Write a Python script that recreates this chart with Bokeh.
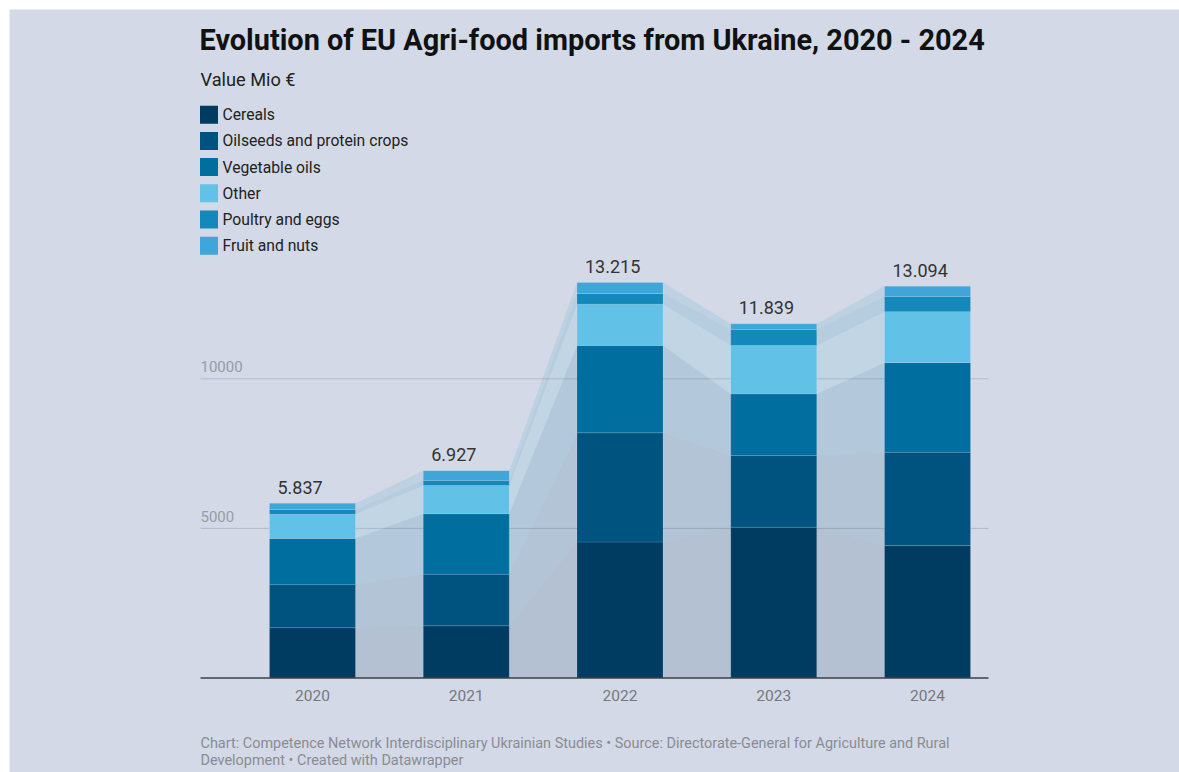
from bokeh.plotting import figure
from bokeh.models import Range1d, ColumnDataSource
from bokeh.core.properties import value
from bokeh.embed import file_html
from bokeh.resources import INLINE
import numpy as np

# ---------------- data ----------------
years = ["2020", "2021", "2022", "2023", "2024"]
categories = ["Cereals", "Oilseeds and protein crops", "Vegetable oils",
              "Other", "Poultry and eggs", "Fruit and nuts"]
cereals = [1680, 1745, 4545, 5040, 4430]
oilseeds = [1440, 1720, 3650, 2400, 3115]
veg_oils = [1540, 2025, 2915, 2055, 2995]
other = [815, 945, 1385, 1620, 1705]
poultry = [155, 170, 355, 535, 505]
fruit = [207, 322, 365, 189, 344]
totals = [5837, 6927, 13215, 11839, 13094]
y_ticks = [5000, 10000]

colors = ["#003b62", "#00537e", "#006e9e", "#61c1e6", "#1389b9", "#40a5d8"]
series = [cereals, oilseeds, veg_oils, other, poultry, fruit]
keys = ["cereals", "oilseeds", "veg_oils", "other", "poultry", "fruit"]

# ---------------- layout (pixels) ----------------
W, H = 1170, 763
OFF = 9                      # page margin
BASE = 677.5                 # page y of baseline
PXU = 0.02992                # px per unit
C0, STEP = 312.0, 153.75     # page x of first bar centre, bar spacing
BAR_W = 86 / STEP

def X(px):
    return (px - C0) / STEP

def Y(py):
    return (BASE - py) / PXU

FONT = value("Roboto")

p = figure(width=W, height=H, output_backend="svg", toolbar_location=None,
           x_range=Range1d(X(OFF), X(OFF + W)), y_range=Range1d(Y(OFF + H), Y(OFF)),
           min_border=0, margin=(OFF, 0, 0, OFF))
p.axis.visible = False
p.grid.visible = False
p.outline_line_color = None
p.background_fill_color = "#d3d9e6"
p.border_fill_color = "#d3d9e6"

xs = list(range(len(years)))

# grid lines
p.segment(x0=[X(200)] * len(y_ticks), x1=[X(988)] * len(y_ticks), y0=y_ticks, y1=y_ticks,
          line_color="#b4b9c6", line_width=1)
p.text(x=[X(200)] * len(y_ticks), y=[t + 12.3 / PXU for t in y_ticks],
       text=[str(t) for t in y_ticks], text_font=FONT, text_font_size="15px",
       text_color="#9a9ca3", text_baseline="middle", text_align="left")

# connecting bands
cum = np.zeros(len(years))
bounds = []
for s in series:
    bot = cum.copy()
    cum = cum + np.array(s)
    bounds.append((bot, cum.copy()))

for (bot, top), col in zip(bounds, colors):
    pxs, pys = [], []
    for i in range(len(years) - 1):
        xa = xs[i] + BAR_W / 2
        xb = xs[i + 1] - BAR_W / 2
        pxs.append([xa, xa, xb, xb])
        pys.append([bot[i], top[i], top[i + 1], bot[i + 1]])
    p.patches(pxs, pys, fill_color=col, fill_alpha=0.15, line_color=None)

# stacked bars
data = {"x": xs}
for k, s in zip(keys, series):
    data[k] = s
src = ColumnDataSource(data)
p.vbar_stack(keys, x="x", width=BAR_W, color=colors, source=src,
             line_color="#ffffff", line_alpha=0.12, line_width=1)

# baseline
p.segment(x0=[X(200)], x1=[X(988)], y0=[0], y1=[0], line_color="#3d3f45", line_width=1.5)

# total labels
p.text(x=[x - BAR_W / 2 + 8 / STEP for x in xs], y=[t + 16 / PXU for t in totals],
       text=[f"{t:,}".replace(",", ".") for t in totals], text_font=FONT,
       text_font_size="18px", text_color="#333333", text_align="left",
       text_baseline="middle")

# year labels
p.text(x=xs, y=[Y(695)] * len(xs), text=years, text_font=FONT, text_font_size="15.5px",
       text_color="#76787e", text_align="center", text_baseline="middle")

# title, subtitle
p.text(x=[X(199)], y=[Y(39)], text=["Evolution of EU Agri-food imports from Ukraine, 2020 - 2024"],
       text_font=FONT, text_font_size="28.9px", text_font_style="bold", text_color="#111111",
       text_baseline="middle")
p.text(x=[X(200)], y=[Y(79)], text=["Value Mio €"], text_font=FONT, text_font_size="18.2px",
       text_color="#222222", text_baseline="middle")

# legend
ly = [114.2 + 26.2 * k for k in range(len(categories))]
p.scatter(x=[X(208.5)] * len(categories), y=[Y(v) for v in ly], marker="square", size=18,
          fill_color=colors, line_color=None)
p.text(x=[X(222)] * len(categories), y=[Y(v) for v in ly], text=categories, text_font=FONT,
       text_font_size="15.7px", text_color="#222222", text_baseline="middle")

# footer
footer = ["Chart: Competence Network Interdisciplinary Ukrainian Studies \u2022 Source: Directorate-General for Agriculture and Rural",
          "Development \u2022 Created with Datawrapper"]
p.text(x=[X(200)] * 2, y=[Y(743), Y(759.6)], text=footer, text_font=FONT,
       text_font_size="14.45px", text_color="#8a8c92", text_baseline="middle")

open("out.html", "w").write(file_html(p, INLINE))
